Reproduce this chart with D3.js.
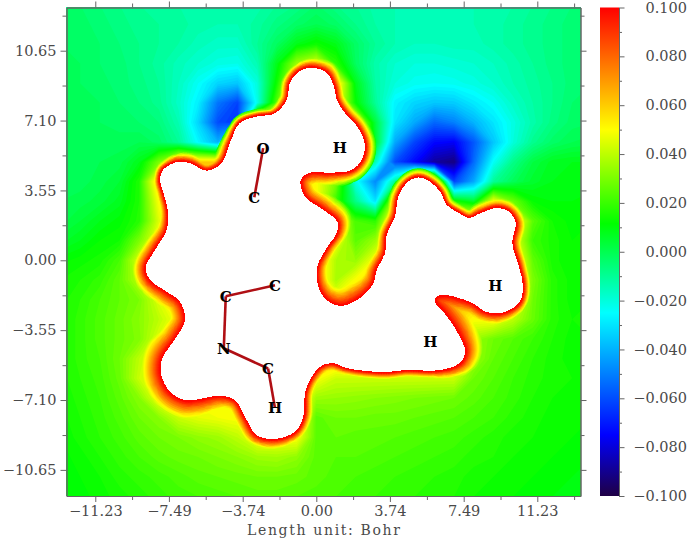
<!DOCTYPE html>
<html>
<head>
<meta charset="utf-8">
<script src="https://cdn.jsdelivr.net/npm/d3@7"></script>
<style>
  body { margin: 0; background: #fff; }
  .tick text, .axisText { font-family: "DejaVu Serif", serif; fill: #4a4a4a; }
  .domain, .tick line { stroke: #666; }
</style>
</head>
<body>
<div class="chart"></div>
<script>
// Tick values (Bohr) and colour bar ticks
var xMajor = [-11.23, -7.49, -3.74, 0, 3.74, 7.49, 11.23];
var xMinor = [-9.36, -5.62, -1.87, 1.87, 5.62, 9.36, 13.10];
var yMajor = [-10.65, -7.10, -3.55, 0, 3.55, 7.10, 10.65];
var yMinor = [-8.88, -5.33, -1.78, 1.78, 5.33, 8.88, 12.43];
var barMajor = [-0.1, -0.08, -0.06, -0.04, -0.02, 0, 0.02, 0.04, 0.06, 0.08, 0.1];
var barMinor = [-0.09, -0.07, -0.05, -0.03, -0.01, 0.01, 0.03, 0.05, 0.07, 0.09];

// Colour table
var colorStops = [-0.1, -0.075, -0.025, 0.0115, 0.05, 0.1];
var colorValues = ["#1f0045", "#0000ff", "#00ffff", "#00ff00", "#ffff00", "#ff0000"];

// Atoms and bonds
var atomNames = ["O", "C", "C", "C", "N", "C", "H", "H", "H", "H"];
var atomX = [-2.7, -3.15, -2.1, -4.6, -4.7, -2.45, -2.1, 1.2, 9.1, 5.8];
var atomY = [5.7, 3.2, -1.27, -1.83, -4.47, -5.5, -7.5, 5.75, -1.3, -4.15];
var bonds = [[0, 1], [2, 3], [3, 4], [4, 5], [5, 6]];

// Potential in 0.001 a.u., one row per Bohr:
// x from -13 to 14, y from 13 down to -12
var espRows = [
  [-3,-4,-6,-8,-10,-11,-12,-13,-14,-14,-13,-10,-8,-4,-8,-10,-13,-14,-15,-15,-15,-14,-13,-12,-10,-8,-6,-5],
  [-2,-3,-5,-7,-9,-10,-11,-13,-14,-14,-11,-7,-3,0,-3,-8,-12,-14,-15,-15,-15,-14,-13,-11,-9,-7,-5,-4],
  [-2,-3,-4,-6,-8,-10,-12,-15,-17,-17,-10,-2,8,13,8,-3,-10,-14,-16,-16,-15,-15,-13,-11,-9,-7,-5,-4],
  [-2,-2,-4,-5,-8,-11,-15,-18,-21,-22,-14,8,35,45,18,-2,-13,-18,-20,-20,-19,-18,-16,-13,-10,-7,-5,-4],
  [-2,-2,-3,-5,-7,-10,-16,-24,-33,-36,-20,14,60,60,60,8,-12,-20,-23,-24,-23,-21,-18,-14,-11,-8,-5,-4],
  [-2,-2,-2,-4,-6,-9,-17,-28,-52,-62,-22,25,60,60,55,12,-10,-27,-33,-36,-35,-29,-24,-17,-12,-8,-4,-3],
  [-2,-2,-2,-3,-4,-6,-14,-33,-60,-65,60,60,60,60,60,50,3,-30,-42,-55,-50,-40,-30,-21,-13,-7,-3,-2],
  [-2,-2,-1,-1,0,-3,-10,-26,-40,60,60,60,60,60,60,60,6,-42,-62,-74,-76,-58,-36,-20,-9,-3,0,1],
  [-2,-2,0,1,8,30,60,60,60,60,60,60,60,60,60,60,-15,-60,-74,-88,-92,-54,-24,-8,2,7,8,8],
  [-1,-1,1,4,16,60,60,60,60,60,60,60,60,50,30,-22,-48,-10,60,60,-62,-42,-10,-1,5,8,9,9],
  [0,1,3,7,16,50,60,60,60,60,60,60,60,50,20,-8,-30,45,60,60,15,5,50,28,12,10,10,11],
  [1,4,8,11,17,45,60,60,60,60,60,60,60,60,50,22,18,60,60,60,60,60,60,60,25,14,11,12],
  [5,8,12,14,30,50,60,60,60,60,60,60,60,60,50,25,35,60,60,60,60,60,60,50,20,15,12,13],
  [11,13,15,22,45,60,60,60,60,60,60,60,60,60,38,34,50,60,60,60,60,60,60,60,26,15,12,13],
  [14,16,19,26,40,60,60,60,60,60,60,60,60,60,37,50,60,60,60,60,60,60,60,60,30,17,13,14],
  [15,18,22,26,30,45,60,60,60,60,60,60,60,60,50,60,60,60,60,60,70,60,60,60,28,17,13,14],
  [15,19,23,27,32,40,50,60,60,60,60,60,60,60,60,60,60,60,60,60,60,50,50,40,27,17,14,14],
  [15,19,23,27,31,45,60,60,60,60,60,60,60,60,60,60,60,60,60,60,60,35,28,24,20,16,13,14],
  [15,19,22,28,40,50,60,60,60,60,60,60,60,60,60,60,60,60,60,60,60,35,26,22,18,15,13,13],
  [15,18,21,27,42,50,60,60,60,60,60,60,60,50,42,42,42,42,42,42,42,28,24,20,17,15,14,14],
  [14,17,20,25,32,48,50,50,50,60,60,60,60,35,34,33,32,31,30,29,28,25,22,19,16,14,13,13],
  [13,16,19,23,28,32,42,46,48,50,60,60,60,25,28,28,27,27,26,25,24,22,20,17,15,13,12,12],
  [12,15,18,21,25,28,30,33,35,40,50,50,50,25,26,25,25,24,23,22,21,19,17,15,14,13,12,11],
  [11,13,16,19,22,25,27,28,30,32,35,36,33,25,24,24,23,22,21,20,19,17,16,14,13,12,11,10],
  [10,12,14,17,19,21,23,25,26,27,28,28,27,25,23,22,21,20,19,18,17,15,14,13,12,11,10,9],
  [9,11,13,15,17,19,21,22,23,24,25,25,24,23,22,21,20,19,18,17,16,14,13,12,11,10,9,9]
];

// Edge of the white region (above 0.1 a.u.) in Bohr, and how far the
// red to yellow band reaches from that edge at each point
var edgeX = [-0.23,0.53,0.90,1.04,1.46,2.13,2.47,2.31,1.80,0.70,-0.32,-0.79,-0.57,0.36,1.07,1.04,0.53,0.05,0.10,0.53,1.29,2.31,2.90,3.07,3.49,3.58,4.00,4.17,4.59,5.17,5.78,6.29,6.63,7.25,7.76,8.35,9.20,9.79,10.13,9.96,10.30,10.50,10.30,9.37,8.61,7.93,7.25,6.54,6.08,6.03,6.45,6.88,7.30,7.56,7.35,6.79,5.93,4.59,3.58,2.37,1.54,0.78,0.19,-0.32,-0.57,-0.66,-1.08,-2.10,-3.03,-3.62,-4.04,-4.39,-5.06,-5.91,-6.67,-7.43,-7.86,-7.91,-7.79,-7.09,-6.67,-6.93,-7.60,-8.45,-8.67,-8.20,-7.60,-7.55,-7.77,-7.94,-7.79,-7.09,-6.42,-5.57,-4.81,-4.39,-3.88,-3.03,-2.10,-1.50,-1.34,-0.91];
var edgeY = [9.79,9.52,8.82,8.15,7.48,6.72,5.86,5.10,4.59,4.45,4.45,4.08,3.23,2.56,1.96,1.39,0.63,-0.33,-1.34,-2.02,-2.32,-1.85,-1.17,-0.49,0.36,1.29,2.22,3.23,3.93,4.21,3.99,3.49,2.81,2.40,2.15,2.40,2.66,2.47,1.90,0.88,-0.33,-1.34,-2.17,-2.68,-2.61,-2.17,-1.92,-1.76,-1.86,-2.12,-2.61,-3.19,-3.90,-4.61,-5.17,-5.47,-5.61,-5.57,-5.68,-5.61,-5.47,-5.22,-5.41,-6.08,-6.74,-7.95,-8.71,-9.08,-8.88,-7.95,-7.19,-6.97,-6.88,-7.05,-7.10,-6.68,-5.91,-5.41,-4.90,-3.88,-3.03,-2.10,-1.60,-1.00,-0.39,0.52,1.54,2.56,3.42,4.08,4.59,4.99,4.94,4.55,4.94,5.96,6.98,7.30,7.47,8.15,9.01,9.58];
var rimWidth = [0.4,0.35,0.35,0.35,0.35,0.35,0.35,0.35,0.45,0.6,0.65,0.65,0.65,0.55,0.4,0.4,0.45,0.55,0.7,0.85,0.9,0.7,0.5,0.45,0.35,0.35,0.3,0.25,0.25,0.25,0.25,0.25,0.25,0.3,0.35,0.35,0.35,0.4,0.4,0.35,0.3,0.3,0.4,0.5,0.6,0.8,1,1,1,1,1,0.9,0.7,0.5,0.4,0.3,0.3,0.3,0.3,0.3,0.35,0.4,0.35,0.35,0.35,0.35,0.4,0.45,0.5,0.5,0.6,0.7,0.8,0.85,0.85,0.9,0.9,0.9,0.8,0.75,0.75,0.7,0.6,0.55,0.55,0.5,0.35,0.3,0.25,0.25,0.3,0.35,0.35,0.35,0.3,0.2,0.2,0.2,0.3,0.3,0.3,0.35];

var svgWidth = 689;
var svgHeight = 540;
var plot = { left: 66.5, right: 580.5, top: 7.5, bottom: 496 };
var bar = { left: 600, right: 619 };

var svg = d3.select(".chart").append("svg")
  .attr("width", svgWidth)
  .attr("height", svgHeight)
  .style("display", "block");

var xScale = d3.scaleLinear().domain([-12.693, 13.425]).range([plot.left, plot.right]);
var yScale = d3.scaleLinear().domain([-11.977, 12.845]).range([plot.bottom, plot.top]);
var colorScale = d3.scaleLinear().domain(colorStops).range(colorValues).clamp(true);
var barScale = d3.scaleLinear().domain([-0.1, 0.1]).range([plot.bottom, plot.top]);

svg.append("clipPath").attr("id", "plotClip").append("rect")
  .attr("x", plot.left).attr("y", plot.top)
  .attr("width", plot.right - plot.left).attr("height", plot.bottom - plot.top);

var mapGroup = svg.append("g").attr("clip-path", "url(#plotClip)");

// grid index -> Bohr -> pixel for the contour polygons
var gridPath = d3.geoPath(d3.geoTransform({
  point: function(cx, cy) {
    this.stream.point(xScale(-13 + cx - 0.5), yScale(13 - cy + 0.5));
  }
}));

// outline of the white region
var edgeLine = d3.line()
  .x(function(d, i) { return xScale(edgeX[i]); })
  .y(function(d, i) { return yScale(edgeY[i]); })
  .curve(d3.curveCatmullRomClosed.alpha(0.5));
var edgePathData = edgeLine(edgeX);

// walk along the outline so the rim band can follow it
var helper = svg.append("path").attr("d", edgePathData).attr("fill", "none");
var totalLength = helper.node().getTotalLength();
var chord = [0];
edgeX.forEach(function(d, i) {
  if (i == 0) return;
  chord.push(chord[i - 1] + Math.hypot(xScale(edgeX[i]) - xScale(edgeX[i - 1]), yScale(edgeY[i]) - yScale(edgeY[i - 1])));
});
var chordEnd = chord[chord.length - 1] + Math.hypot(xScale(edgeX[0]) - xScale(edgeX[edgeX.length - 1]), yScale(edgeY[0]) - yScale(edgeY[edgeY.length - 1]));
var widthAlong = d3.scaleLinear()
  .domain(chord.concat([chordEnd]).map(function(c) { return c / chordEnd * totalLength; }))
  .range(rimWidth.concat([rimWidth[0]]));
var rimSamples = d3.range(0, totalLength, 2.5).map(function(s) {
  var p = helper.node().getPointAtLength(s);
  return { x: p.x, y: p.y, w: 0.85 * (xScale(widthAlong(s)) - xScale(0)) };
});
helper.remove();

function rimPath(level) {
  var out = "";
  rimSamples.forEach(function(p) {
    var r = 1 + p.w * (0.1 - level) / 0.05;
    out += "M" + (p.x - r).toFixed(1) + "," + p.y.toFixed(1) +
      "a" + r.toFixed(1) + "," + r.toFixed(1) + " 0 1,0 " + (2 * r).toFixed(1) + ",0" +
      "a" + r.toFixed(1) + "," + r.toFixed(1) + " 0 1,0 " + (-2 * r).toFixed(1) + ",0";
  });
  return out;
}

// paint the levels from low to high, so each pixel keeps its highest level
var levels = d3.range(-100, 100, 2).map(function(d) { return d / 1000; });
var contourData = d3.contours()
  .size([espRows[0].length, espRows.length])
  .thresholds(levels)(d3.merge(espRows).map(function(d) { return d / 1000; }));

mapGroup.append("rect")
  .attr("x", plot.left).attr("y", plot.top)
  .attr("width", plot.right - plot.left).attr("height", plot.bottom - plot.top)
  .attr("fill", colorScale(-0.1));

contourData.forEach(function(c) {
  mapGroup.append("path").attr("d", gridPath(c)).attr("fill", colorScale(c.value + 0.001));
  if (c.value >= 0.012) {
    mapGroup.append("path").attr("d", rimPath(c.value)).attr("fill", colorScale(c.value + 0.001));
  }
});

// white where the potential is above the colour range
mapGroup.append("path")
  .attr("d", edgePathData)
  .attr("fill", "#fff")
  .attr("shape-rendering", "crispEdges");

// bonds and atom labels
svg.selectAll(".bond").data(bonds).enter().append("line")
  .attr("class", "bond")
  .attr("x1", function(d) { return xScale(atomX[d[0]]); })
  .attr("y1", function(d) { return yScale(atomY[d[0]]); })
  .attr("x2", function(d) { return xScale(atomX[d[1]]); })
  .attr("y2", function(d) { return yScale(atomY[d[1]]); })
  .attr("stroke", "#b00f14")
  .attr("stroke-width", 2.6);

svg.selectAll(".atom").data(atomNames).enter().append("text")
  .attr("class", "atom")
  .attr("x", function(d, i) { return xScale(atomX[i]); })
  .attr("y", function(d, i) { return yScale(atomY[i]) + 5.5; })
  .attr("text-anchor", "middle")
  .attr("font-family", "'DejaVu Serif', serif")
  .attr("font-weight", "bold")
  .attr("font-size", 15)
  .attr("fill", "#000")
  .text(function(d) { return d; });

// axes around the map
var fmt = d3.format(".2f");
function addAxis(axis, values, size, dx, dy, format) {
  var g = svg.append("g")
    .attr("transform", "translate(" + dx + "," + dy + ")")
    .call(axis.tickValues(values).tickSize(size).tickSizeOuter(0).tickPadding(4).tickFormat(format));
  g.selectAll("text").style("font-size", "14.5px");
  return g;
}
var noLabel = function() { return ""; };

addAxis(d3.axisBottom(xScale), xMajor, 6, 0, plot.bottom, fmt);
addAxis(d3.axisBottom(xScale), xMinor, 4, 0, plot.bottom, noLabel);
addAxis(d3.axisTop(xScale), xMajor, 6, 0, plot.top, noLabel);
addAxis(d3.axisTop(xScale), xMinor, 4, 0, plot.top, noLabel);
addAxis(d3.axisLeft(yScale), yMajor, 6, plot.left, 0, fmt);
addAxis(d3.axisLeft(yScale), yMinor, 4, plot.left, 0, noLabel);
addAxis(d3.axisRight(yScale), yMajor, 6, plot.right, 0, noLabel);
addAxis(d3.axisRight(yScale), yMinor, 4, plot.right, 0, noLabel);

svg.append("text")
  .attr("class", "axisText")
  .attr("x", 247)
  .attr("y", 535)
  .attr("textLength", 153)
  .attr("lengthAdjust", "spacing")
  .style("font-size", "14px")
  .text("Length unit: Bohr");

// colour bar
var gradient = svg.append("linearGradient")
  .attr("id", "barGradient")
  .attr("x1", 0).attr("y1", 1).attr("x2", 0).attr("y2", 0);
gradient.selectAll("stop").data(colorStops).enter().append("stop")
  .attr("offset", function(d) { return (d + 0.1) / 0.2; })
  .attr("stop-color", function(d) { return colorScale(d); });

svg.append("rect")
  .attr("x", bar.left).attr("y", plot.top)
  .attr("width", bar.right - bar.left).attr("height", plot.bottom - plot.top)
  .attr("fill", "url(#barGradient)");

var barAxis = addAxis(d3.axisRight(barScale), barMajor, 5.5, bar.right, 0, d3.format(".3f"));
barAxis.selectAll("text")
  .attr("x", 687 - bar.right)
  .attr("text-anchor", "end");
addAxis(d3.axisRight(barScale), barMinor, 3, bar.right, 0, noLabel);
</script>
</body>
</html>
